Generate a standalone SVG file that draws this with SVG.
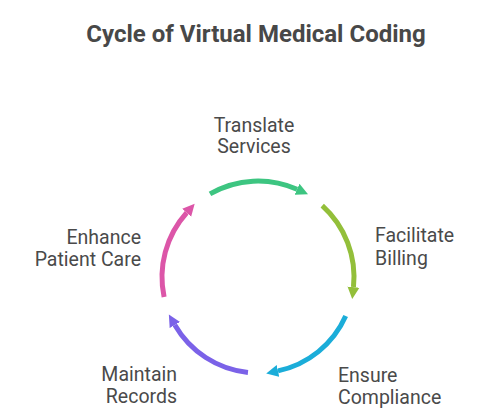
<svg xmlns="http://www.w3.org/2000/svg" width="492" height="420" viewBox="0 0 492 420">
  <style>
    .title { font-family: Roboto, "Liberation Sans", sans-serif; font-weight: bold; font-size: 24px; fill: #484848; }
    .lbl { font-family: Roboto, "Liberation Sans", sans-serif; font-size: 19.5px; fill: #4a4a4a; }
    .arc { fill: none; stroke-width: 5; }
  </style>
  <defs>
    <marker id="mGreen" markerUnits="userSpaceOnUse" markerWidth="14" markerHeight="14" refX="0" refY="7" orient="auto" viewBox="0 0 14 14"><path d="M0,1 L12,7 L0,13 z" fill="#3dc581"/></marker>
    <marker id="mLime" markerUnits="userSpaceOnUse" markerWidth="14" markerHeight="14" refX="0" refY="7" orient="auto" viewBox="0 0 14 14"><path d="M0,1 L12,7 L0,13 z" fill="#93bf3a"/></marker>
    <marker id="mBlue" markerUnits="userSpaceOnUse" markerWidth="14" markerHeight="14" refX="0" refY="7" orient="auto" viewBox="0 0 14 14"><path d="M0,1 L12,7 L0,13 z" fill="#1badd9"/></marker>
    <marker id="mPurple" markerUnits="userSpaceOnUse" markerWidth="14" markerHeight="14" refX="0" refY="7" orient="auto" viewBox="0 0 14 14"><path d="M0,1 L12,7 L0,13 z" fill="#7b62e8"/></marker>
    <marker id="mPink" markerUnits="userSpaceOnUse" markerWidth="14" markerHeight="14" refX="0" refY="7" orient="auto" viewBox="0 0 14 14"><path d="M0,1 L12,7 L0,13 z" fill="#dc56a8"/></marker>
  </defs>
  <rect width="492" height="420" fill="#ffffff"/>
  <text class="title" x="256" y="41.5" text-anchor="middle">Cycle of Virtual Medical Coding</text>

  <g id="connectors">
    <path class="arc" stroke="#3dc581" marker-end="url(#mGreen)" d="M210,193.86 A96,96 0 0 1 297.05,189.3"/>
    <path class="arc" stroke="#93bf3a" marker-end="url(#mLime)" d="M322.24,205.66 A96,96 0 0 1 353.47,287.03"/>
    <path class="arc" stroke="#1badd9" marker-end="url(#mBlue)" d="M345.7,316.05 A96,96 0 0 1 277.96,370.9"/>
    <path class="arc" stroke="#7b62e8" marker-end="url(#mPurple)" d="M247.97,372.47 A96,96 0 0 1 174.86,325"/>
    <path class="arc" stroke="#dc56a8" marker-end="url(#mPink)" d="M164.1,296.96 A96,96 0 0 1 186.66,212.77"/>
  </g>

  <g id="translate-services">
    <text class="lbl" x="254" y="131.5" text-anchor="middle">Translate</text>
    <text class="lbl" x="254" y="153" text-anchor="middle">Services</text>
  </g>
  <g id="facilitate-billing">
    <text class="lbl" x="375" y="242">Facilitate</text>
    <text class="lbl" x="375" y="264.5">Billing</text>
  </g>
  <g id="ensure-compliance">
    <text class="lbl" x="338" y="381.5">Ensure</text>
    <text class="lbl" x="338" y="403.5">Compliance</text>
  </g>
  <g id="maintain-records">
    <text class="lbl" x="177" y="381" text-anchor="end">Maintain</text>
    <text class="lbl" x="177" y="403" text-anchor="end">Records</text>
  </g>
  <g id="enhance-patient-care">
    <text class="lbl" x="141" y="243.5" text-anchor="end">Enhance</text>
    <text class="lbl" x="141" y="265.5" text-anchor="end">Patient Care</text>
  </g>
</svg>
